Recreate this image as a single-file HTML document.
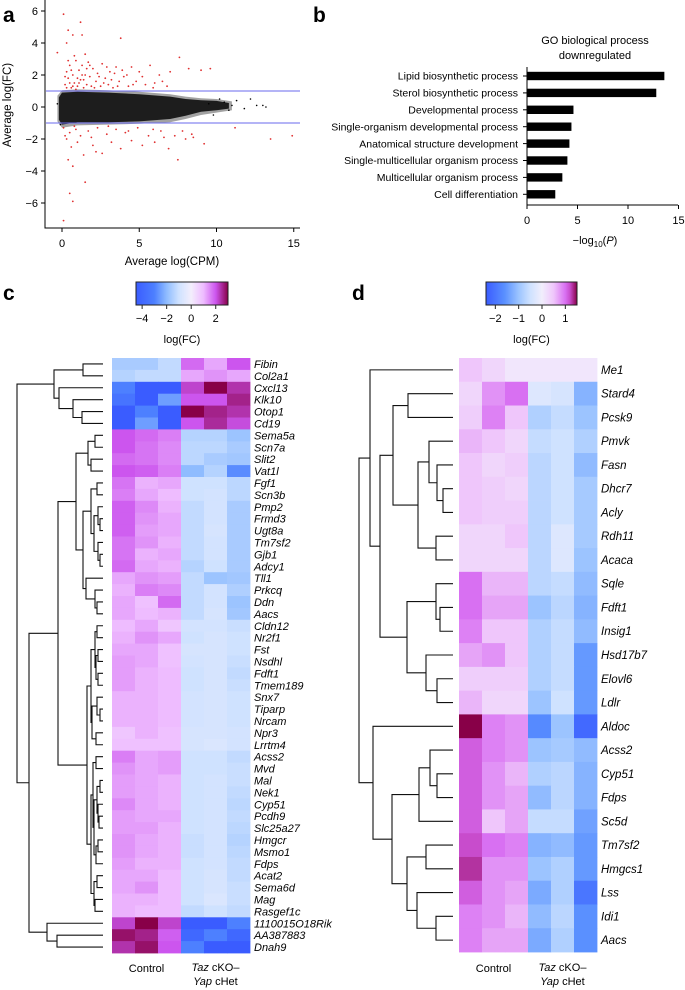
<!DOCTYPE html>
<html><head><meta charset="utf-8"><style>
body{margin:0;background:#fff;}
svg{display:block;font-family:"Liberation Sans",sans-serif;}
</style></head><body>
<svg id="fig" width="685" height="990" viewBox="0 0 685 990">
<g id="pa"></g>
<g id="pb"></g>
<g id="pc"></g>
<g id="pd"></g>
</svg>
<script>
// ---------- Panel a data ----------
const aXTicks=[0,5,10,15];
const aYTicks=[6,4,2,0,-2,-4,-6];
const aThresh=[1,-1];
const cloudTop=[[-0.2,0.6],[0,0.9],[1,0.95],[3,0.9],[5,0.8],[7,0.65],[8,0.5],[9,0.42],[10,0.38],[10.8,0.25]];
const cloudBot=[[10.8,-0.1],[10,-0.2],[9,-0.3],[8,-0.55],[7,-0.75],[5,-0.9],[3,-0.95],[1,-0.95],[0,-1.1],[-0.2,-0.8]];
const haloTop=[[-0.3,0.7],[0,1.05],[1,1.1],[3,1.05],[5,0.95],[7,0.8],[8,0.65],[9,0.55],[10,0.5],[11,0.35]];
const haloBot=[[11,-0.2],[10,-0.35],[9,-0.5],[8,-0.75],[7,-0.95],[5,-1.05],[3,-1.1],[1,-1.15],[0,-1.3],[-0.3,-0.9]];
const blackPts=[[9.5,0.2],[10.5,0.3],[11.3,0.4],[12.2,0.5],[13.0,0.1],[13.2,0.0],[12.6,0.1],[11.8,-0.1],[10.8,-0.2],[9.8,-0.5],[10.2,0.5],[11.0,0.1],[-0.3,0.2],[-0.1,-1.1]];
const redPts=[[0.2,1.4],[0.3,2.2],[0.4,1.8],[0.5,2.6],[0.6,1.2],[0.7,2.0],[0.8,1.5],[0.9,2.9],[1.0,1.3],[1.1,2.3],[1.2,1.7],[1.3,2.6],[1.4,1.2],[1.5,2.0],[1.6,1.4],[1.7,2.8],[1.8,1.9],[1.9,1.3],[2.0,2.4],[2.2,1.6],[2.3,2.1],[2.5,1.3],[2.6,2.7],[2.8,1.8],[3.0,1.4],[3.1,2.2],[3.3,1.2],[3.5,2.5],[3.7,1.6],[3.9,2.3],[4.0,1.9],[4.3,1.3],[4.5,2.5],[4.8,1.6],[5.0,2.2],[5.4,1.4],[5.7,2.6],[6.0,1.5],[6.3,2.0],[6.8,1.3],[7.0,2.2],[7.6,3.1],[8.2,2.4],[9.0,2.3],[9.6,2.4],[0.1,5.8],[0.4,4.8],[0.3,4.0],[0.7,4.5],[1.3,4.5],[1.2,5.3],[3.8,4.3],[-0.3,3.4],[0.8,3.2],[1.5,3.3],
[0.2,1.9],[0.3,1.2],[0.5,1.5],[0.6,2.3],[0.9,1.1],[1.0,1.8],[1.1,1.5],[1.3,2.0],[1.6,2.4],[2.1,1.2],[2.4,1.9],[2.7,1.5],[3.2,1.7],[3.4,2.1],[3.6,1.3],[4.2,2.0],[4.6,1.4],[5.2,1.9],[5.9,1.2],[6.5,1.6],[0.4,2.9],[1.8,2.6],[2.9,2.5],[0.7,1.3],[1.4,1.7],
[0.1,-1.3],[0.3,-2.0],[0.4,-3.3],[0.5,-1.6],[0.6,-2.5],[0.7,-3.7],[0.9,-1.4],[1.0,-2.2],[1.2,-1.8],[1.4,-3.0],[1.5,-4.7],[1.7,-1.5],[2.0,-2.4],[2.3,-1.3],[2.6,-2.9],[2.9,-1.7],[3.2,-2.2],[3.5,-1.4],[3.8,-2.6],[4.1,-1.6],[4.5,-2.1],[4.9,-1.3],[5.2,-2.4],[5.6,-1.8],[6.0,-2.2],[6.4,-1.5],[6.9,-2.6],[7.3,-1.8],[7.5,-3.3],[8.0,-2.0],[8.4,-1.7],[9.2,-2.3],[0.5,-5.4],[0.7,-5.9],[0.1,-7.1],[13.5,-2.0],[14.9,-1.8],[11.2,-1.3],[0.2,-1.8],[0.8,-1.2],[1.9,-1.9],[3.0,-1.2],[4.3,-1.5],[5.9,-1.4],[7.8,-1.5],[8.5,-1.9],[2.2,-2.8],[6.6,-1.9]];

// ---------- Panel b data ----------
const bCats=["Lipid biosynthetic process","Sterol biosynthetic process","Developmental process","Single-organism developmental process","Anatomical structure development","Single-multicellular organism process","Multicellular organism process","Cell differentiation"];
const bVals=[13.6,12.8,4.6,4.4,4.2,4.0,3.5,2.8];
const bTicks=[0,5,10,15];

// ---------- Panel c data ----------
const cGenes=["Fibin","Col2a1","Cxcl13","Klk10","Otop1","Cd19","Sema5a","Scn7a","Slit2","Vat1l","Fgf1","Scn3b","Pmp2","Frmd3","Ugt8a","Tm7sf2","Gjb1","Adcy1","Tll1","Prkcq","Ddn","Aacs","Cldn12","Nr2f1","Fst","Nsdhl","Fdft1","Tmem189","Snx7","Tiparp","Nrcam","Npr3","Lrrtm4","Acss2","Mvd","Mal","Nek1","Cyp51","Pcdh9","Slc25a27","Hmgcr","Msmo1","Fdps","Acat2","Sema6d","Mag","Rasgef1c","1110015O18Rik","AA387883","Dnah9"];
const cVals=[[-1.6,-1.6,-1.2,1.8,1.2,2.0],[-1.4,-1.2,-1.2,1.2,1.4,1.2],[-3,-4.5,-4.5,2.2,3,2.4],[-3.5,-4.5,-2.5,2,2,2.6],[-4.5,-3,-4.5,3,2.6,2.4],[-4.5,-2.5,-4.5,2,2.5,2.1],[2,1.8,1.6,-1.4,-1.4,-1.8],[2,1.7,1.5,-1.3,-1.3,-1.6],[1.8,1.7,1.5,-1.3,-1.6,-1.7],[2,1.9,1.6,-2,-1.4,-2.8],[1.7,1.1,1.2,-1,-1,-1.3],[1.6,1.2,1,-1,-0.9,-1.3],[1.9,1.5,1.1,-1.2,-0.9,-1.6],[1.9,1.4,1.2,-1.2,-0.9,-1.6],[1.9,1.3,1.2,-1.2,-0.8,-1.6],[1.7,1.4,1.1,-1.2,-0.9,-1.6],[1.7,1.1,1.2,-1.2,-0.9,-1.6],[1.8,1.2,1.1,-1.4,-1,-1.6],[1.2,1.4,1.3,-1.2,-1.8,-1.7],[1.1,1.6,1.5,-1.2,-0.9,-1.5],[1.2,0.9,1.8,-1.2,-0.9,-1.8],[1.2,1,1.1,-1.2,-0.8,-1.7],[1,1.2,0.8,-0.9,-0.9,-1.1],[1.1,1.4,1.2,-1,-0.8,-1],[1.2,1.2,0.9,-0.8,-0.8,-1],[1.3,1.2,0.9,-0.9,-0.8,-1.1],[1.3,1.1,1,-1,-0.8,-1.2],[1.3,1.1,1,-1,-0.8,-1.1],[1.1,1.1,1,-0.9,-0.8,-1],[1.1,1.1,1,-0.9,-0.8,-1],[1.1,1.1,1,-0.9,-0.8,-1],[0.8,1.1,0.9,-0.8,-0.8,-0.9],[0.9,0.9,0.9,-0.8,-0.7,-0.9],[1.6,1.2,1.3,-1,-1,-1.2],[1.4,1.2,1.3,-1,-1,-1.1],[1.3,1.2,1.1,-1,-0.9,-1.1],[1.3,1.2,1.1,-1,-0.9,-1.2],[1.5,1.2,1.1,-1,-0.9,-1.3],[1.3,1.2,1.2,-1,-0.9,-1.2],[1.3,1.3,1.1,-1,-0.9,-1.3],[1.4,1.2,1.1,-1.1,-0.9,-1.4],[1.4,1.2,1.1,-1.1,-0.9,-1.3],[1.3,1.1,1.1,-1,-0.9,-1.2],[1.2,1.2,1,-1,-0.8,-1.2],[1.2,1.4,1,-1,-0.8,-1.1],[1.1,1.1,1,-1,-0.7,-1.1],[1.1,1,1,-1.2,-1,-1.2],[2.2,3,2.2,-4.5,-4.5,-3],[2.8,2.6,1.9,-4,-3,-4],[2.4,2.8,2,-3,-4.5,-4.5]];
const cTicks=[-4,-2,0,2];
const cStops=[[-4.5,"#3a5cff"],[-3,"#4d80ff"],[-2,"#8fbcff"],[-1,"#cfe2ff"],[0,"#f3eefc"],[1,"#eebcff"],[2,"#cc55ee"],[3,"#880048"]];
const cTree=[86,[49,[20,0,1],[44,2,[30,3,[21,4,5]]]],[74,[45,[27,[15,[8,6,7],[12,8,9]],[20,[12,[6,10,11],[9,[5,12,[3,13,14]],[5,15,[3,16,17]]]],[17,18,[8,19,[6,20,21]]]]],[16,[12,[8,[6,22,23],[7,[5,24,25],[5,26,27]]],[11,[6,28,[3,29,30]],[7,31,32]]],[12,[10,[7,33,34],[9,[6,[3,35,36],[5,37,[4,38,39]]],[7,[5,40,41],42]]],[9,[6,43,44],[8,45,46]]]]],[56,47,[46,48,49]]]];

// ---------- Panel d data ----------
const dGenes=["Me1","Stard4","Pcsk9","Pmvk","Fasn","Dhcr7","Acly","Rdh11","Acaca","Sqle","Fdft1","Insig1","Hsd17b7","Elovl6","Ldlr","Aldoc","Acss2","Cyp51","Fdps","Sc5d","Tm7sf2","Hmgcs1","Lss","Idi1","Aacs"];
const dVals=[[0.5,0.3,0.1,0.1,0.1,0.1],[0.3,0.8,1.0,-0.3,-0.4,-1.2],[0.4,0.9,0.5,-0.8,-0.6,-1.0],[0.6,0.5,0.3,-0.6,-0.5,-0.8],[0.5,0.3,0.4,-0.7,-0.5,-1.1],[0.5,0.4,0.3,-0.7,-0.5,-0.9],[0.5,0.4,0.4,-0.7,-0.5,-0.9],[0.3,0.3,0.5,-0.7,-0.3,-0.9],[0.3,0.3,0.3,-0.7,-0.3,-1.0],[1.0,0.6,0.6,-0.7,-0.6,-1.1],[1.0,0.7,0.7,-1.0,-0.7,-1.2],[0.9,0.5,0.5,-0.8,-0.6,-1.1],[0.7,0.8,0.5,-0.8,-0.6,-1.5],[0.4,0.4,0.4,-0.8,-0.6,-1.5],[0.6,0.3,0.3,-1.0,-0.5,-1.5],[1.5,0.9,0.8,-1.7,-1.0,-2.2],[1.1,0.9,0.8,-1.0,-0.9,-1.1],[1.1,0.8,0.6,-0.8,-0.7,-1.2],[1.1,0.8,0.7,-1.1,-0.7,-1.2],[1.1,0.5,0.7,-0.6,-0.6,-1.4],[1.2,1.0,0.9,-1.2,-1.1,-1.5],[1.3,0.8,0.8,-1.0,-0.8,-1.5],[1.1,0.8,0.7,-1.3,-0.8,-2.0],[0.9,0.8,0.6,-1.1,-0.7,-1.6],[0.9,0.7,0.7,-1.3,-0.8,-1.6]];
const dTicks=[-2,-1,0,1];
const dStops=[[-2.4,"#3a5cff"],[-1.6,"#5a90ff"],[-1,"#9cc4ff"],[-0.5,"#cfe2ff"],[0,"#f1eefc"],[0.5,"#efc6fb"],[1,"#d870f2"],[1.2,"#c84ccc"],[1.5,"#880048"]];
const dTree=[94,[83,0,[73,[60,[45,1,2],[35,[24,3,[16,4,[10,5,6]]],[17,7,8]]],[46,[17,9,[13,10,11]],[27,12,[16,13,14]]]]],[80,15,[61,[34,[23,16,[16,17,18]],19],[46,[27,20,21],[36,22,[17,23,24]]]]]];

const NS="http://www.w3.org/2000/svg";
function mk(parent,tag,attrs,text){const e=document.createElementNS(NS,tag);for(const k in attrs)e.setAttribute(k,attrs[k]);if(text!==undefined)e.textContent=text;parent.appendChild(e);return e;}
function hex(c){return [parseInt(c.substr(1,2),16),parseInt(c.substr(3,2),16),parseInt(c.substr(5,2),16)];}
function colorAt(stops,v){if(v<=stops[0][0])return stops[0][1];if(v>=stops[stops.length-1][0])return stops[stops.length-1][1];
for(let i=0;i<stops.length-1;i++){const a=stops[i],b=stops[i+1];if(v>=a[0]&&v<=b[0]){const t=(v-a[0])/(b[0]-a[0]);const A=hex(a[1]),B=hex(b[1]);return "rgb("+A.map((x,j)=>Math.round(x+(B[j]-x)*t)).join(",")+")";}}}

// ---------- Panel a ----------
(function(){
const g=document.getElementById('pa');
const X=v=>62+v*15.45, Y=v=>107-v*16;
let t=mk(g,'text',{x:3,y:22,'font-size':21,'font-weight':'bold'},'a');

const halo=haloTop.concat(haloBot).map(p=>X(p[0]).toFixed(1)+","+Y(p[1]).toFixed(1)).join(" ");
let e=mk(g,'polygon',{points:halo,fill:'#555','fill-opacity':0.55});

const cloud=cloudTop.concat(cloudBot).map(p=>X(p[0]).toFixed(1)+","+Y(p[1]).toFixed(1)).join(" ");
e=mk(g,'polygon',{points:cloud,fill:'#111','fill-opacity':0.92});

blackPts.forEach(p=>{const c=mk(g,'circle',{cx:X(p[0]),cy:Y(p[1]),r:0.8,fill:'#000'});});
redPts.forEach(p=>{const c=mk(g,'circle',{cx:X(p[0]),cy:Y(p[1]),r:0.9,fill:'#e03030'});});
aThresh.forEach(v=>{const l=mk(g,'line',{x1:46,x2:300,y1:Y(v),y2:Y(v),stroke:'#6a6aee','stroke-width':1});});
e=mk(g,'path',{d:'M45,0 V228 H300',fill:'none',stroke:'#000','stroke-width':1});

aYTicks.forEach(v=>{mk(g,'line',{x1:41,x2:45,y1:Y(v),y2:Y(v),stroke:'#000'});const tx=mk(g,'text',{x:38,y:Y(v)+4,'font-size':11,'text-anchor':'end'},v<0?'\u2212'+(-v):String(v));});
aXTicks.forEach(v=>{mk(g,'line',{x1:X(v),x2:X(v),y1:228,y2:232,stroke:'#000'});const tx=mk(g,'text',{x:X(v),y:247,'font-size':11,'text-anchor':'middle'},String(v));});
t=mk(g,'text',{x:172,y:265,'font-size':11.5,'text-anchor':'middle'},'Average log(CPM)');

t=mk(g,'text',{x:0,y:0,'font-size':11.5,'text-anchor':'middle',transform:'translate(11,105) rotate(-90)'},'Average log(FC)');

})();

// ---------- Panel b ----------
(function(){
const g=document.getElementById('pb');
const X=v=>527+v*10.1;
const y0=76, step=16.9;
let t=mk(g,'text',{x:313,y:22,'font-size':21,'font-weight':'bold'},'b');

t=mk(g,'text',{x:595,y:44,'font-size':11,'text-anchor':'middle'},'GO biological process');

t=mk(g,'text',{x:595,y:59,'font-size':11,'text-anchor':'middle'},'downregulated');

bCats.forEach((c,i)=>{const yc=y0+i*step;
const r=mk(g,'rect',{x:527,y:yc-4.2,width:X(bVals[i])-527,height:8.4,fill:'#000'});
mk(g,'line',{x1:523,x2:527,y1:yc,y2:yc,stroke:'#000'});
const tx=mk(g,'text',{x:518,y:yc+3.7,'font-size':10.5,'text-anchor':'end'},c);});
const ax=mk(g,'path',{d:'M527,67 V205 H678',fill:'none',stroke:'#000'});
bTicks.forEach(v=>{mk(g,'line',{x1:X(v),x2:X(v),y1:205,y2:209,stroke:'#000'});const tx=mk(g,'text',{x:X(v),y:224,'font-size':11,'text-anchor':'middle'},String(v));});
t=mk(g,'text',{x:595,y:244,'font-size':11,'text-anchor':'middle'});

t.innerHTML='\u2212log<tspan font-size="8" dy="3">10</tspan><tspan dy="-3">(</tspan><tspan font-style="italic">P</tspan>)';
})();

// ---------- Heatmap builder ----------
function heat(id,label,lx,genes,vals,stops,ticks,tree,o){
const g=document.getElementById(id);
let t=mk(g,'text',{x:lx,y:300,'font-size':21,'font-weight':'bold'},label);

const lo=stops[0][0],hi=stops[stops.length-1][0];
const CB=v=>o.cbx+(v-lo)/(hi-lo)*o.cbw;
const gid='grad'+label;
const defs=mk(g,'defs',{});const lg=mk(defs,'linearGradient',{id:gid,x1:0,x2:1,y1:0,y2:0});
stops.forEach(s=>mk(lg,'stop',{offset:((s[0]-lo)/(hi-lo)*100)+'%','stop-color':s[1]}));
let cb=mk(g,'rect',{x:o.cbx,y:282,width:o.cbw,height:23,fill:'url(#'+gid+')',stroke:'#222','stroke-width':1});

ticks.forEach(v=>{mk(g,'line',{x1:CB(v),x2:CB(v),y1:305,y2:309,stroke:'#222'});const tx=mk(g,'text',{x:CB(v),y:322,'font-size':11,'text-anchor':'middle'},v<0?'\u2212'+(-v):String(v));});
t=mk(g,'text',{x:o.cbx+o.cbw/2,y:343,'font-size':11,'text-anchor':'middle'},'log(FC)');

const n=genes.length, rh=(o.bot-o.top)/n, cw=(o.hx2-o.hx1)/6;
const rowY=i=>o.top+i*rh;
vals.forEach((row,i)=>row.forEach((v,j)=>{const r=mk(g,'rect',{x:o.hx1+j*cw,y:rowY(i),width:cw+0.4,height:rh+0.4,fill:colorAt(stops,v)});}));
genes.forEach((gn,i)=>{const tx=mk(g,'text',{x:o.hx2+4,y:rowY(i)+rh/2+4,'font-size':o.fs,'font-style':'italic'},gn);});
const cx1=o.hx1+1.5*cw, cx2=o.hx1+4.5*cw;
t=mk(g,'text',{x:cx1,y:972,'font-size':11,'text-anchor':'middle'},'Control');

t=mk(g,'text',{x:cx2,y:971,'font-size':11,'text-anchor':'middle'});
t.innerHTML='<tspan font-style="italic">Taz</tspan> cKO\u2013';

t=mk(g,'text',{x:cx2,y:985,'font-size':11,'text-anchor':'middle'});
t.innerHTML='<tspan font-style="italic">Yap</tspan> cHet';

const dg=mk(g,'g',{fill:'none',stroke:'#111','stroke-width':1.1});

function walk(node){
 if(typeof node==='number')return {x:o.leafX,y:rowY(node)+rh/2};
 const nx=o.leafX-node[0];const a=walk(node[1]),b=walk(node[2]);
 mk(dg,'path',{d:'M'+a.x+','+a.y+' H'+nx+' V'+b.y+' H'+b.x});
 return {x:nx,y:(a.y+b.y)/2};}
walk(tree);
}
heat('pc','c',3,cGenes,cVals,cStops,cTicks,cTree,{cbx:136,cbw:92,top:358,bot:953,hx1:112,hx2:250,leafX:103,fs:11});
heat('pd','d',352,dGenes,dVals,dStops,dTicks,dTree,{cbx:486,cbw:91,top:358,bot:952,hx1:459,hx2:597,leafX:453,fs:11.5});
</script>
</body></html>
